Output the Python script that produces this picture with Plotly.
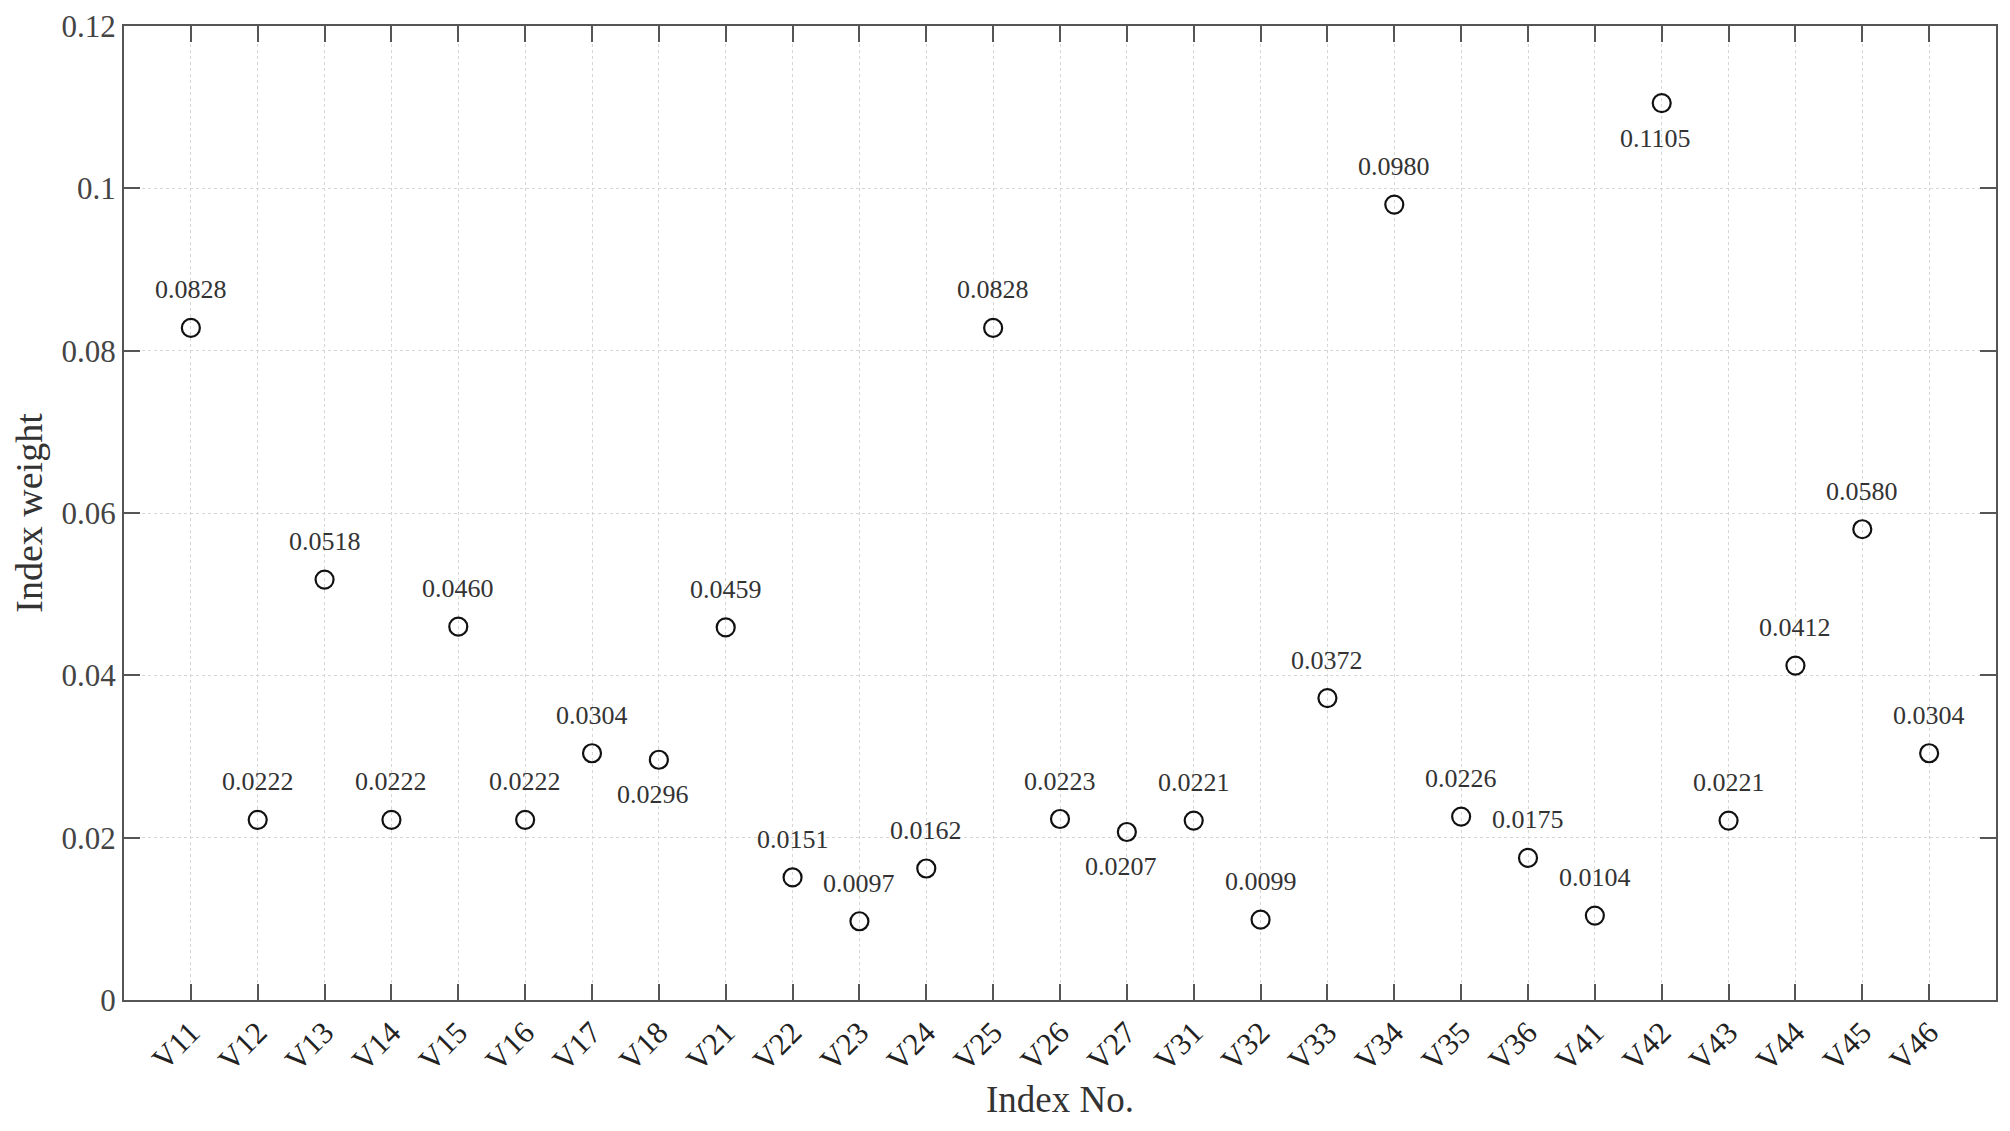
import plotly.graph_objects as go

categories = ["V11", "V12", "V13", "V14", "V15", "V16", "V17", "V18",
              "V21", "V22", "V23", "V24", "V25", "V26", "V27",
              "V31", "V32", "V33", "V34", "V35", "V36",
              "V41", "V42", "V43", "V44", "V45", "V46"]
weights = [0.0828, 0.0222, 0.0518, 0.0222, 0.0460, 0.0222, 0.0304, 0.0296,
           0.0459, 0.0151, 0.0097, 0.0162, 0.0828, 0.0223, 0.0207,
           0.0221, 0.0099, 0.0372, 0.0980, 0.0226, 0.0175,
           0.0104, 0.1105, 0.0221, 0.0412, 0.0580, 0.0304]
label_text = ["0.0828", "0.0222", "0.0518", "0.0222", "0.0460", "0.0222", "0.0304", "0.0296",
              "0.0459", "0.0151", "0.0097", "0.0162", "0.0828", "0.0223", "0.0207",
              "0.0221", "0.0099", "0.0372", "0.0980", "0.0226", "0.0175",
              "0.0104", "0.1105", "0.0221", "0.0412", "0.0580", "0.0304"]
label_below = {"V18", "V27", "V42"}
y_ticks = [0, 0.02, 0.04, 0.06, 0.08, 0.1, 0.12]
y_tick_text = ["0", "0.02", "0.04", "0.06", "0.08", "0.1", "0.12"]

FONT = "Liberation Serif, Times New Roman, serif"
AX = "#555555"

fig = go.Figure()
fig.add_trace(go.Scatter(
    x=categories, y=weights, mode="markers",
    marker=dict(symbol="circle-open", size=18, color="#111111", line=dict(width=2.2, color="#111111")),
    showlegend=False,
))

for c, v, t in zip(categories, weights, label_text):
    below = c in label_below
    fig.add_annotation(
        x=c, y=v, text=t, showarrow=False,
        yshift=-35 if below else 38, xshift=-6 if below else 0,
        font=dict(family=FONT, size=26, color="#333333"),
    )

fig.update_layout(
    width=2002, height=1123,
    paper_bgcolor="white", plot_bgcolor="white",
    margin=dict(l=116, r=14, t=18, b=131, autoexpand=False),
    font=dict(family=FONT, color="#333333"),
)
fig.update_xaxes(
    range=[-1, len(categories)],
    tickangle=-45, tickfont=dict(family=FONT, size=31, color="#222222"),
    showline=True, linecolor=AX, linewidth=2, mirror="ticks",
    ticks="inside", ticklen=16, tickwidth=1.5, tickcolor=AX,
    showgrid=True, gridcolor="#d6d6d6", gridwidth=1, griddash="dot",
    title=dict(text="Index No.", font=dict(family=FONT, size=37, color="#333333"), standoff=10),
    zeroline=False, automargin=False,
)
fig.update_yaxes(
    range=[0, 0.12], tickvals=y_ticks, ticktext=y_tick_text,
    tickfont=dict(family=FONT, size=31, color="#444444"),
    showline=True, linecolor=AX, linewidth=2, mirror="ticks",
    ticks="inside", ticklen=16, tickwidth=1.5, tickcolor=AX,
    showgrid=True, gridcolor="#d6d6d6", gridwidth=1, griddash="dot",
    title=dict(text="Index weight", font=dict(family=FONT, size=38, color="#333333"), standoff=22),
    zeroline=False, automargin=False,
)

fig.write_html("out.html")
